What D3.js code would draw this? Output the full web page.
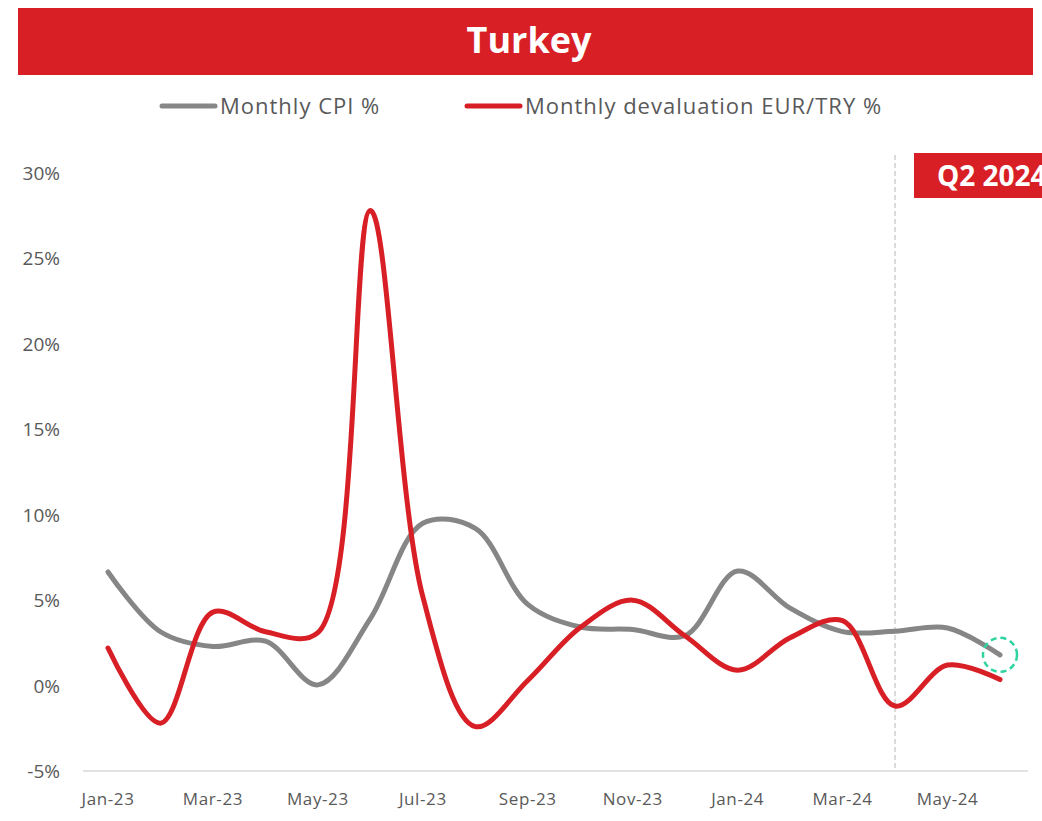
<!DOCTYPE html>
<html>
<head>
<meta charset="utf-8">
<script src="https://cdn.jsdelivr.net/npm/d3@7"></script>
<style>
  body { margin: 0; background: #fff; }
  svg text { font-family: "Open Sans", "Noto Sans", sans-serif; }
</style>
</head>
<body>
<svg id="chart"></svg>
<script>
// months Jan-23 .. Jun-24
const months = ["Jan-23","Feb-23","Mar-23","Apr-23","May-23","Jun-23","Jul-23","Aug-23","Sep-23",
                "Oct-23","Nov-23","Dec-23","Jan-24","Feb-24","Mar-24","Apr-24","May-24","Jun-24"]
const cpi = [6.65, 3.15, 2.29, 2.6, 0.04, 3.92, 9.5, 9.2, 4.75, 3.43, 3.28, 2.93, 6.70, 4.53, 3.16, 3.18, 3.37, 1.8]
const deval = [2.2, -2.2, 4.3, 3.15, 3.1, 27.8, 5.2, -2.4, 0.3, 3.4, 5.0, 2.9, 0.9, 2.8, 3.8, -1.2, 1.2, 0.35]
const yTicks = [-5, 0, 5, 10, 15, 20, 25, 30]
const xTickLabels = ["Jan-23","Mar-23","May-23","Jul-23","Sep-23","Nov-23","Jan-24","Mar-24","May-24"]

const width = 1042
const height = 821
const red = "#d81f26"
const grey = "#868686"

const svg = d3.select("#chart").attr("width", width).attr("height", height)

// title banner
svg.append("rect").attr("x", 18).attr("y", 8).attr("width", 1015).attr("height", 67).attr("fill", red)
svg.append("text").attr("x", 529).attr("y", 53).attr("text-anchor", "middle")
    .attr("fill", "#fff").attr("font-size", 36).attr("font-weight", "bold").text("Turkey")

// legend
const legend = [
    {name: "Monthly CPI %", color: grey, x: 162},
    {name: "Monthly devaluation EUR/TRY %", color: red, x: 467}
]
legend.forEach(l => {
    svg.append("line").attr("x1", l.x).attr("x2", l.x + 53).attr("y1", 106).attr("y2", 106)
        .attr("stroke", l.color).attr("stroke-width", 5).attr("stroke-linecap", "round")
    svg.append("text").attr("x", l.x + 58).attr("y", 114).attr("font-size", 22)
        .attr("letter-spacing", 1).attr("fill", "#595959").text(l.name)
})

// scales
const x = d3.scaleLinear().domain([0, months.length - 1]).range([108, 1000])
const y = d3.scaleLinear().domain([-5, 30]).range([771, 173])

// y labels
svg.selectAll(".ytick").data(yTicks).enter().append("text")
    .attr("class", "ytick")
    .attr("x", 60).attr("y", d => y(d) + 7)
    .attr("text-anchor", "end").attr("font-size", 19).attr("fill", "#595959")
    .text(d => d + "%")

// x axis line
svg.append("line").attr("x1", 83).attr("x2", 1028).attr("y1", y(-5)).attr("y2", y(-5))
    .attr("stroke", "#d9d9d9").attr("stroke-width", 1.5)

// x labels
svg.selectAll(".xtick").data(xTickLabels).enter().append("text")
    .attr("class", "xtick")
    .attr("x", d => x(months.indexOf(d))).attr("y", 805)
    .attr("text-anchor", "middle").attr("font-size", 17).attr("letter-spacing", 0.6)
    .attr("fill", "#595959")
    .text(d => d)

// Q2 2024 marker (at Apr-24)
const q2x = x(15)
svg.append("line").attr("x1", q2x).attr("x2", q2x).attr("y1", 155).attr("y2", y(-5))
    .attr("stroke", "#d0d0d0").attr("stroke-width", 1.5).attr("stroke-dasharray", "5,3")
svg.append("rect").attr("x", 914).attr("y", 153).attr("width", 140).attr("height", 45).attr("fill", red)
svg.append("text").attr("x", 937).attr("y", 186).attr("fill", "#fff")
    .attr("font-size", 28).attr("font-weight", "bold").text("Q2 2024")

// lines
const line = d3.line()
    .x((d, i) => x(i))
    .y(d => y(d))
    .curve(d3.curveCatmullRom.alpha(0.5))

svg.append("path").datum(cpi).attr("d", line)
    .attr("fill", "none").attr("stroke", grey).attr("stroke-width", 5).attr("stroke-linecap", "round")
svg.append("path").datum(deval).attr("d", line)
    .attr("fill", "none").attr("stroke", red).attr("stroke-width", 5).attr("stroke-linecap", "round")

// highlight last CPI point
svg.append("circle").attr("cx", x(cpi.length - 1)).attr("cy", y(cpi[cpi.length - 1]))
    .attr("r", 17).attr("fill", "none").attr("stroke", "#2ed3a0")
    .attr("stroke-width", 2.5).attr("stroke-dasharray", "6,4")
</script>
</body>
</html>
